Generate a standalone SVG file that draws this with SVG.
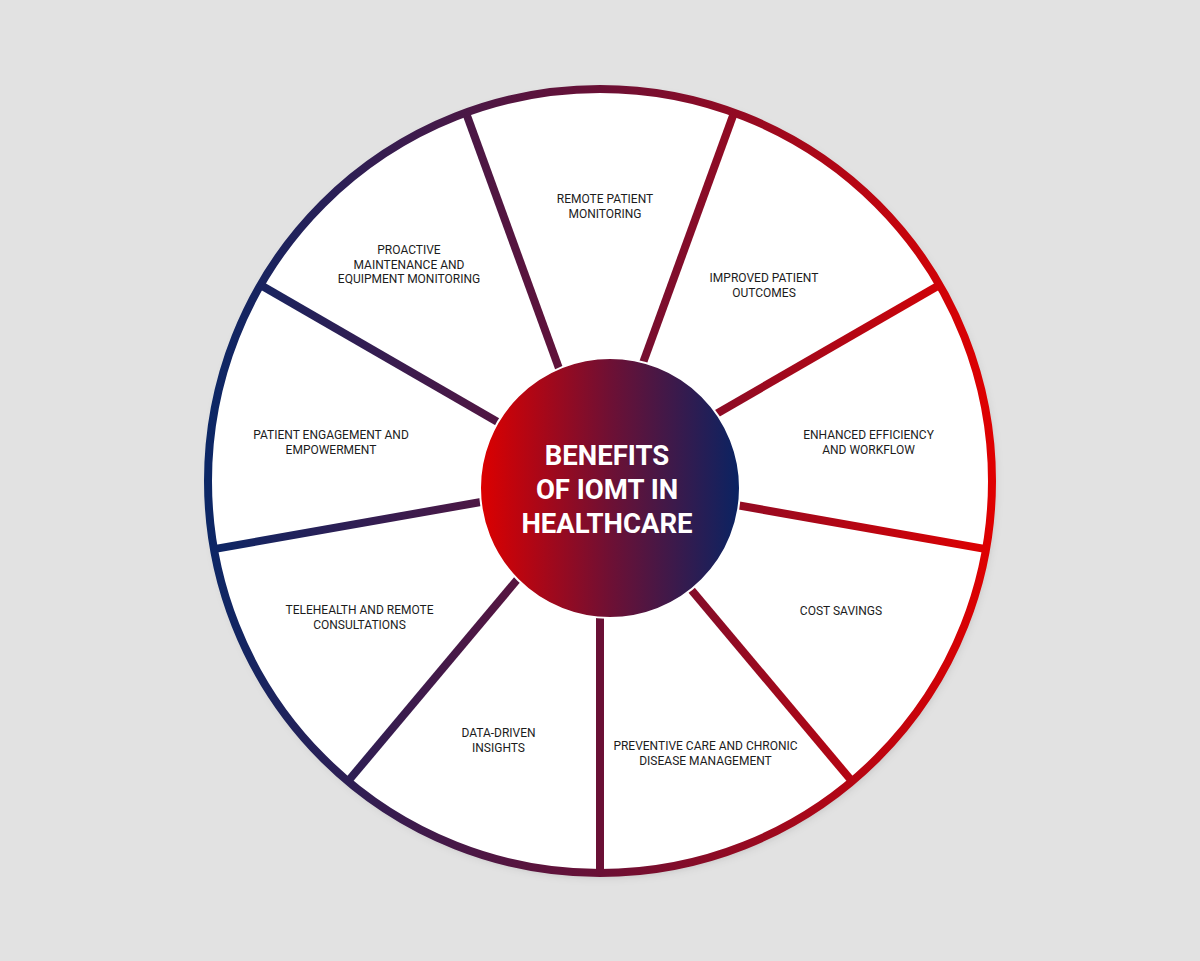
<svg xmlns="http://www.w3.org/2000/svg" width="1200" height="961" viewBox="0 0 1200 961">
  <defs>
    <!-- shared colour sweep: navy on the left, crimson on the right -->
    <linearGradient id="ringGrad" gradientUnits="userSpaceOnUse" x1="204" y1="0" x2="996" y2="0">
      <stop offset="0" stop-color="#0b2766"/>
      <stop offset="0.5" stop-color="#6a1035"/>
      <stop offset="1" stop-color="#e00000"/>
    </linearGradient>
    <!-- hub runs the opposite way -->
    <linearGradient id="hubGrad" gradientUnits="userSpaceOnUse" x1="481" y1="0" x2="739" y2="0">
      <stop offset="0" stop-color="#dc0000"/>
      <stop offset="0.5" stop-color="#6e1034"/>
      <stop offset="1" stop-color="#0a2362"/>
    </linearGradient>
    <filter id="softShadow" x="-10%" y="-10%" width="120%" height="120%">
      <feDropShadow dx="2" dy="3" stdDeviation="5" flood-color="#000" flood-opacity="0.18"/>
    </filter>
    <style>
      .seg { fill: #ffffff; }
      .label { font-family: Roboto, "Liberation Sans", sans-serif; font-size: 12px; fill: #1c1c1c; text-anchor: middle; }
      .title { font-family: Roboto, "Liberation Sans", sans-serif; font-size: 27.5px; font-weight: 700; fill: #ffffff; text-anchor: middle; }
      .spoke { stroke: url(#ringGrad); stroke-width: 8; stroke-linecap: butt; fill: none; }
      .ring { stroke: url(#ringGrad); stroke-width: 8; fill: none; }
    </style>
  </defs>

  <rect width="1200" height="961" fill="#e2e2e2"/>

  <!-- white disc with drop shadow -->
  <circle cx="600" cy="481" r="392" fill="#ffffff" filter="url(#softShadow)"/>

  <!-- segments, 40 degrees each, clockwise from the top -->
  <g id="remote-patient-monitoring">
    <path class="seg" d="M600 481 L465.9 112.6 A392 392 0 0 1 734.1 112.6 Z"/>
    <text class="label" x="605" y="203">REMOTE PATIENT</text>
    <text class="label" x="605" y="217.5">MONITORING</text>
  </g>
  <g id="improved-patient-outcomes">
    <path class="seg" d="M600 481 L734.1 112.6 A392 392 0 0 1 939.5 285 Z"/>
    <text class="label" x="764" y="282">IMPROVED PATIENT</text>
    <text class="label" x="764" y="296.5">OUTCOMES</text>
  </g>
  <g id="enhanced-efficiency">
    <path class="seg" d="M600 481 L939.5 285 A392 392 0 0 1 986 549.1 Z"/>
    <text class="label" x="868.5" y="439">ENHANCED EFFICIENCY</text>
    <text class="label" x="868.5" y="453.5">AND WORKFLOW</text>
  </g>
  <g id="cost-savings">
    <path class="seg" d="M600 481 L986 549.1 A392 392 0 0 1 852 781.3 Z"/>
    <text class="label" x="841" y="615">COST SAVINGS</text>
  </g>
  <g id="preventive-care">
    <path class="seg" d="M600 481 L852 781.3 A392 392 0 0 1 600 873 Z"/>
    <text class="label" x="705.5" y="750">PREVENTIVE CARE AND CHRONIC</text>
    <text class="label" x="705.5" y="764.5">DISEASE MANAGEMENT</text>
  </g>
  <g id="data-driven-insights">
    <path class="seg" d="M600 481 L600 873 A392 392 0 0 1 348 781.3 Z"/>
    <text class="label" x="498.5" y="737">DATA-DRIVEN</text>
    <text class="label" x="498.5" y="751.5">INSIGHTS</text>
  </g>
  <g id="telehealth">
    <path class="seg" d="M600 481 L348 781.3 A392 392 0 0 1 214 549.1 Z"/>
    <text class="label" x="359.5" y="614">TELEHEALTH AND REMOTE</text>
    <text class="label" x="359.5" y="628.5">CONSULTATIONS</text>
  </g>
  <g id="patient-engagement">
    <path class="seg" d="M600 481 L214 549.1 A392 392 0 0 1 260.5 285 Z"/>
    <text class="label" x="331" y="439">PATIENT ENGAGEMENT AND</text>
    <text class="label" x="331" y="453.5">EMPOWERMENT</text>
  </g>
  <g id="proactive-maintenance">
    <path class="seg" d="M600 481 L260.5 285 A392 392 0 0 1 465.9 112.6 Z"/>
    <text class="label" x="409" y="254">PROACTIVE</text>
    <text class="label" x="409" y="268.5">MAINTENANCE AND</text>
    <text class="label" x="409" y="283">EQUIPMENT MONITORING</text>
  </g>

  <!-- dividers and rim -->
  <g id="connectors">
    <line class="spoke" x1="600" y1="481" x2="465.9" y2="112.6"/>
    <line class="spoke" x1="600" y1="481" x2="734.1" y2="112.6"/>
    <line class="spoke" x1="600" y1="481" x2="939.5" y2="285"/>
    <line class="spoke" x1="600" y1="481" x2="986" y2="549.1"/>
    <line class="spoke" x1="600" y1="481" x2="852" y2="781.3"/>
    <line class="spoke" x1="600" y1="481" x2="600" y2="873"/>
    <line class="spoke" x1="600" y1="481" x2="348" y2="781.3"/>
    <line class="spoke" x1="600" y1="481" x2="214" y2="549.1"/>
    <line class="spoke" x1="600" y1="481" x2="260.5" y2="285"/>
    <circle class="ring" cx="600" cy="481" r="392"/>
  </g>

  <!-- central hub -->
  <g id="hub">
    <circle cx="610" cy="488" r="130" fill="url(#hubGrad)" stroke="#ffffff" stroke-width="2"/>
    <text class="title" x="607" y="464.5">BENEFITS</text>
    <text class="title" x="607" y="499">OF IOMT IN</text>
    <text class="title" x="607" y="532.5">HEALTHCARE</text>
  </g>
</svg>
